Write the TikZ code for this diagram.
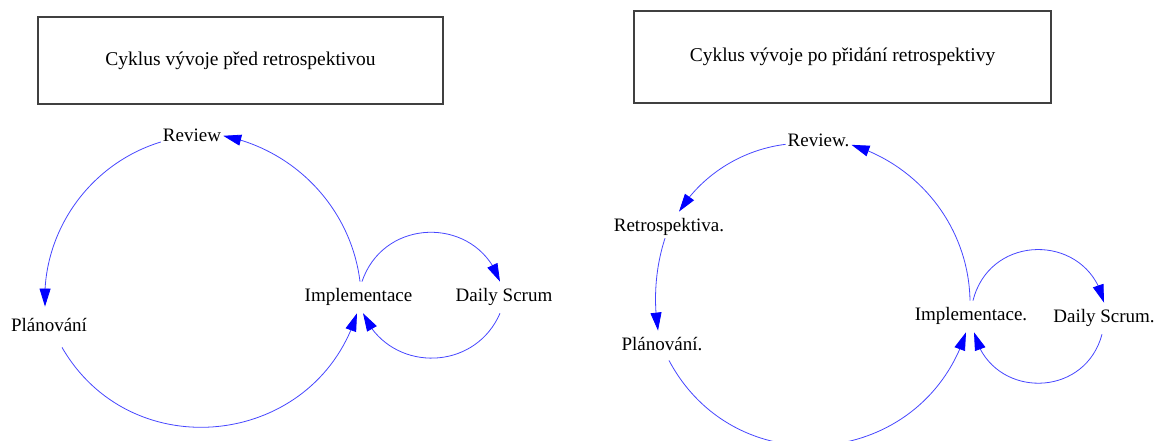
\documentclass[tikz,border=0pt]{standalone}
\usepackage{fontspec}
\setmainfont{Liberation Serif}
\usetikzlibrary{arrows.meta,bending}

\definecolor{linecol}{RGB}{70,70,255}
\definecolor{tipcol}{RGB}{0,0,255}

\tikzset{
  var/.style={anchor=base, inner xsep=2pt, inner ysep=7pt,
    font=\fontsize{19}{22}\selectfont},
  titlebox/.style={draw=black!75, line width=1.1pt, inner sep=0pt,
    font=\fontsize{19.5}{23}\selectfont},
  conn/.style={draw=linecol, line width=0.8pt,
    -{Triangle[length=18pt,width=11pt,flex,color=tipcol]}},
}

\begin{document}
\begin{tikzpicture}[x=1pt,y=1pt]
\useasboundingbox (0,0) rectangle (1155,441);

% heading boxes
\node[titlebox, minimum width=405pt, minimum height=87pt] (tl) at (240.5,380.5)
  {Cyklus vývoje před retrospektivou};
\node[titlebox, minimum width=417pt, minimum height=92pt] (tr) at (842.5,384)
  {Cyklus vývoje po přidání retrospektivy};

% cycle without the retrospective
\node[var] (rev)  at (192,299)   {Review};
\node[var] (plan) at (49,109)    {Plánování};
\node[var] (impl) at (358.5,139) {Implementace};
\node[var] (ds)   at (504,139)   {Daily Scrum};

\draw[conn] (rev.base west) to[out=197,in=93,looseness=0.95]
  ([shift={(-4pt,5pt)}]plan.north);
\draw[conn] ([xshift=13pt,yshift=-8pt]plan.south) to[out=-60,in=253,looseness=1.21]
  ([xshift=-1.5pt]impl.south);
\draw[conn] ([xshift=1.5pt]impl.north) to[out=97,in=-11,looseness=0.94]
  (rev.east);
\draw[conn] ([xshift=3.5pt]impl.north) to[out=71.4,in=108.6,looseness=1.29]
  ([xshift=-4pt]ds.north);
\draw[conn] ([xshift=-4pt]ds.south) to[out=246.6,in=293.4,looseness=1.22]
  ([xshift=4.5pt]impl.south);

% cycle with the retrospective
\node[var] (rev2)  at (818.5,294) {Review.};
\node[var] (retro) at (669,209)   {Retrospektiva.};
\node[var] (plan2) at (662,90)    {Plánování.};
\node[var] (impl2) at (971,120)   {Implementace.};
\node[var] (ds2)   at (1104,118)  {Daily Scrum.};

\draw[conn] ([yshift=-3.5pt]rev2.west) to[out=187,in=58,looseness=0.89]
  ([xshift=10pt]retro.north);
\draw[conn] ([xshift=-4pt,yshift=5pt]retro.south) to[out=252,in=99,looseness=0.86]
  ([xshift=-4pt]plan2.north);
\draw[conn] ([xshift=7pt,yshift=-2pt]plan2.south) to[out=-62,in=252.5,looseness=1.227]
  ([xshift=-5pt]impl2.south);
\draw[conn] ([xshift=-1pt]impl2.north) to[out=91,in=-17,looseness=0.944]
  ([yshift=-4pt]rev2.east);
\draw[conn] ([xshift=2pt]impl2.north) to[out=76,in=102.2,looseness=1.39]
  (ds2.north);
\draw[conn] ([xshift=-2pt]ds2.south) to[out=255,in=283.2,looseness=1.37]
  ([xshift=3pt]impl2.south);
\end{tikzpicture}
\end{document}
